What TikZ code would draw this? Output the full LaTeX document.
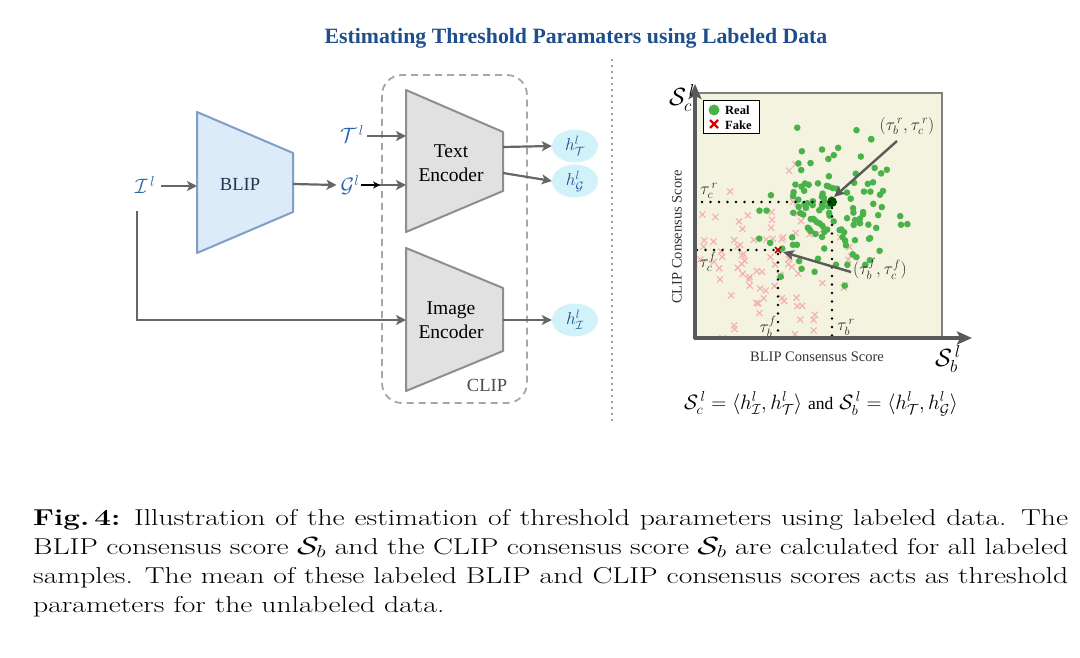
\documentclass[tikz,border=0pt]{standalone}
\usepackage{fontspec}
\usepackage{amsmath}
\usepackage{graphicx}
\usetikzlibrary{arrows.meta,calc,shapes.geometric}
\newfontfamily\tms{Liberation Serif}
\definecolor{titleblue}{HTML}{1F4E8C}
\definecolor{lblblue}{HTML}{2A62AE}
\definecolor{blipfill}{HTML}{DDEBF9}
\definecolor{blipdraw}{HTML}{7F9FC8}
\definecolor{bliptext}{HTML}{1F3550}
\definecolor{encfill}{HTML}{E1E1E1}
\definecolor{encdraw}{HTML}{8E8E8E}
\definecolor{arrgray}{HTML}{666666}
\definecolor{hfill}{HTML}{D2F2FA}
\definecolor{plotbg}{HTML}{F4F3DF}
\definecolor{realgreen}{HTML}{4AB24A}
\definecolor{fakered}{HTML}{F3B0B0}
\definecolor{axisgray}{HTML}{5A5A5A}
\newsavebox\capbox
\newcommand\capfont{\fontsize{23}{29}\selectfont}
\begin{document}
\sbox\capbox{\capfont samples. The mean of these labeled BLIP and CLIP consensus scores acts as threshold}
\pgfmathsetmacro\capscale{1035/\wd\capbox}
\begin{tikzpicture}[x=1pt,y=-1pt,
  arr/.style={draw=arrgray, line width=2.2pt, -{Stealth[length=10pt,width=10pt,inset=2.5pt]}},
  mlabel/.style={text=lblblue, font=\fontsize{22}{24}\selectfont, inner sep=0pt},
  hcirc/.style={ellipse, fill=hfill, minimum width=46pt, minimum height=33pt, inner sep=0pt, text=titleblue, font=\fontsize{17}{18}\selectfont},
  enctext/.style={font=\tms\fontsize{19.5}{24}\selectfont, align=center, inner sep=0pt},
  dotline/.style={line width=2.6pt, dash pattern=on 0pt off 8.5pt, line cap=round, black},
  annarr/.style={draw=axisgray, line width=2.4pt, -{Stealth[length=11pt,width=10pt,inset=2.5pt]}},
  tlab/.style={font=\fontsize{17}{18}\selectfont, inner sep=0pt, text=black!85},
  capline/.style={anchor=base west, inner sep=0pt},
]
\useasboundingbox (0,0) rectangle (1080,658);
\fill[white] (0,0) rectangle (1080,658);

% title
\node[font=\tms\bfseries\fontsize{21.8}{24}\selectfont, text=titleblue] (title) at (576,38) {Estimating Threshold Paramaters using Labeled Data};

% ---------- left part ----------
% CLIP dashed box
\draw[draw=black!35, line width=1.8pt, dash pattern=on 7pt off 5pt, rounded corners=20pt] (382,75) rectangle (527,403);
\node[font=\tms\fontsize{18.5}{20}\selectfont, text=black!70] (clip) at (487,385) {CLIP};

% BLIP trapezoid
\draw[fill=blipfill, draw=blipdraw, line width=2pt, line join=round] (197,112) -- (293,153) -- (293,212) -- (197,253) -- cycle;
\node[font=\tms\fontsize{18.5}{20}\selectfont, text=bliptext] (blip) at (240,184) {BLIP};
\coordinate (blipL) at (197,186);
\coordinate (blipR) at (293,184);

% Text encoder
\draw[fill=encfill, draw=encdraw, line width=2pt, line join=round] (406,90) -- (503,132) -- (503,191) -- (406,232) -- cycle;
\node[enctext] (textenc) at (451,163) {Text\\Encoder};
\coordinate (teT) at (406,136);
\coordinate (teG) at (406,185);
\coordinate (teo1) at (503,147);
\coordinate (teo2) at (503,173);

% Image encoder
\draw[fill=encfill, draw=encdraw, line width=2pt, line join=round] (406,248) -- (503,288) -- (503,351) -- (406,391) -- cycle;
\node[enctext] (imgenc) at (451,320) {Image\\Encoder};
\coordinate (ieI) at (406,320);
\coordinate (ieo) at (503,320);

% labels
\node[mlabel] (Il) at (145,185) {$\mathcal{I}^{\,l}$};
\node[mlabel] (Tl) at (352,134) {$\mathcal{T}^{\,l}$};
\node[mlabel] (Gl) at (350,185) {$\mathcal{G}^{l}$};

% h nodes
\node[hcirc] (hT) at (575,146) {$h^{l}_{\mathcal{T}}$};
\node[hcirc] (hG) at (575,181) {$h^{l}_{\mathcal{G}}$};
\node[hcirc] (hI) at (575,320) {$h^{l}_{\mathcal{I}}$};

% arrows
\draw[arr] (Il.east) ++(6,1) coordinate (IlA) -- (blipL);
\draw[arr] (blipR) -- ($(Gl.west)+(-4,0)$);
\draw[arr] ($(Tl.east)+(3,2)$) -- (teT);
\draw[arr] ($(Gl.east)+(2,0)$) -- (teG);
\draw[black, line width=1.2pt, -{Stealth[length=7pt,width=7pt]}] ($(Gl.east)+(2,0)$) -- (380,185);
\draw[arr] (teo1) -- (hT.west);
\draw[arr] (teo2) -- (hG.west);
\draw[arr] (ieo) -- (hI.west);
\coordinate (corner) at (137,320);
\draw[arr] (137,211) -- (corner) -- (ieI);

% separator
\draw[line width=1.8pt, dash pattern=on 0pt off 6pt, line cap=round, black!75] (612,60) -- (612,422);

% ---------- right part: plot ----------
\fill[plotbg] (695,93) rectangle (942,338);
\draw[draw=black!50, line width=1.5pt] (695,93) rectangle (942,338);

\begin{scope}
\clip (697,95) rectangle (940,336);
\pgfmathsetseed{4321}
\foreach \i in {1,...,95}{
  \pgfmathsetmacro{\px}{772+45*(rand+rand+rand)}
  \pgfmathsetmacro{\py}{262+42*(rand+rand+rand)}
  \draw[fakered, line width=1.1pt] (\px-3,\py-3) -- (\px+3,\py+3) (\px-3,\py+3) -- (\px+3,\py-3);
}
\foreach \i in {1,...,125}{
  \pgfmathsetmacro{\px}{830+30*(rand+rand+rand)}
  \pgfmathsetmacro{\py}{205+33*(rand+rand+rand)}
  \fill[realgreen] (\px,\py) circle (3.3pt);
}
\fill[black!70!green] (832,202) circle (5pt);
\draw[red!70!black, line width=1.6pt] (775,247) -- (781,253) (775,253) -- (781,247);
\end{scope}

% dotted threshold lines
\draw[dotline] (702,202) -- (832,202) -- (832,336);
\draw[dotline] (697,250) -- (778,250) -- (778,336);

% axes
\draw[draw=axisgray, line width=3.5pt, -{Stealth[length=15pt,width=13pt,inset=3pt]}] (695,339) -- (695,84);
\draw[draw=axisgray, line width=3.5pt, -{Stealth[length=15pt,width=13pt,inset=3pt]}] (694,338) -- (972,338);

% legend
\draw[fill=white, draw=black, line width=1pt] (703,101) rectangle (759,134);
\fill[realgreen] (714,110) circle (5.5pt);
\draw[red!85!black, line width=2.4pt] (710,120) -- (718,128) (710,128) -- (718,120);
\node[anchor=west, font=\tms\bfseries\fontsize{12.5}{13}\selectfont, inner sep=0pt] (lreal) at (725,110) {Real};
\node[anchor=west, font=\tms\bfseries\fontsize{12.5}{13}\selectfont, inner sep=0pt] (lfake) at (725,125) {Fake};

% axis labels
\node[font=\fontsize{23}{24}\selectfont, inner sep=0pt] (Sc) at (682,98) {$\mathcal{S}^{\,l}_{c}$};
\node[font=\fontsize{23}{24}\selectfont, inner sep=0pt] (Sb) at (948,359) {$\mathcal{S}^{\,l}_{b}$};
\node[font=\tms\fontsize{14.5}{16}\selectfont, inner sep=0pt, text=black!80] (xlab) at (817,357) {BLIP Consensus Score};
\node[font=\tms\fontsize{14.5}{16}\selectfont, inner sep=0pt, text=black!80, rotate=90] (ylab) at (677,237) {CLIP Consensus Score};

% tau labels
\node[tlab] (tcr) at (709,191) {$\tau_c^{\,r}$};
\node[tlab] (tcf) at (708,262) {$\tau_c^{f}$};
\node[tlab] (tbf) at (768,327) {$\tau_b^{f}$};
\node[tlab] (tbr) at (846,327) {$\tau_b^{\,r}$};

% annotations
\node[tlab] (ptr) at (907,126) {$(\tau_b^{\,r},\tau_c^{\,r})$};
\node[tlab] (ptf) at (880,269) {$(\tau_b^{f},\tau_c^{f})$};
\draw[annarr] (897,141) -- (834,197);
\draw[annarr] (ptf.west) ++(-2,3) -- (783,252);

% formula
\node[font=\fontsize{20}{22}\selectfont, inner sep=0pt] (formula) at (821,404)
  {$\mathcal{S}^{\,l}_{c}=\langle h^{l}_{\mathcal{I}},h^{l}_{\mathcal{T}}\rangle$ {\tms\fontsize{17.5}{20}\selectfont and} $\mathcal{S}^{\,l}_{b}=\langle h^{l}_{\mathcal{T}},h^{l}_{\mathcal{G}}\rangle$};

% caption
\node[capline] (cap1) at (33,525) {\scalebox{\capscale}[1]{\makebox[\wd\capbox][s]{\capfont\textbf{Fig.\,4:} Illustration of the estimation of threshold parameters using labeled data. The}}};
\node[capline] (cap2) at (33,554) {\scalebox{\capscale}[1]{\makebox[\wd\capbox][s]{\capfont BLIP consensus score $\mathcal{S}_b$ and the CLIP consensus score $\mathcal{S}_b$ are calculated for all labeled}}};
\node[capline] (cap3) at (33,583) {\scalebox{\capscale}[1]{\usebox\capbox}};
\node[capline] (cap4) at (33,612) {\scalebox{\capscale}[1]{\capfont parameters for the unlabeled data.}};
\end{tikzpicture}
\end{document}
